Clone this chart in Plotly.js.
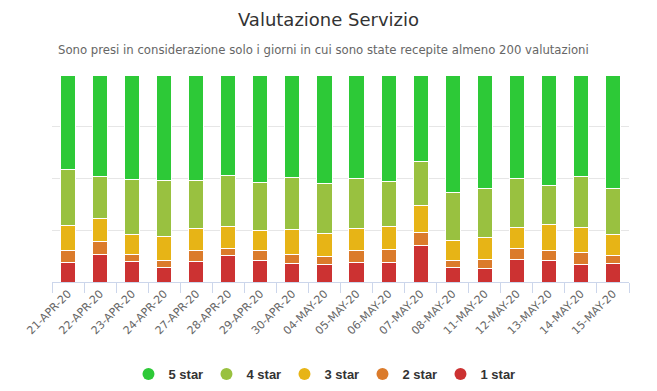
<!DOCTYPE html>
<html>
<head>
<meta charset="utf-8">
<script src="https://cdn.plot.ly/plotly-3.0.1.min.js"></script>
<style>html,body{margin:0;padding:0;background:#fff;}#chart{width:657px;height:391px;}</style>
</head>
<body>
<div id="chart"></div>
<script>
var categories = ["21-APR-20","22-APR-20","23-APR-20","24-APR-20","27-APR-20","28-APR-20","29-APR-20","30-APR-20","04-MAY-20","05-MAY-20","06-MAY-20","07-MAY-20","08-MAY-20","11-MAY-20","12-MAY-20","13-MAY-20","14-MAY-20","15-MAY-20"];
var star1 = [9.5,13.4,10.0,7.1,10.0,12.9,10.5,9.0,8.5,9.5,9.5,17.7,7.1,6.6,10.9,10.5,8.5,9.0];
var star2 = [5.8,6.2,3.5,3.4,5.3,3.5,4.8,4.4,3.9,5.8,6.3,6.3,3.4,4.3,5.4,4.8,5.8,3.9];
var star3 = [12.1,11.2,9.5,11.6,10.6,10.5,9.7,12.0,11.1,10.6,11.1,13.0,9.6,10.7,10.1,12.6,12.1,10.1];
var star4 = [27.0,20.2,26.6,27.0,23.2,24.6,23.1,25.2,24.2,24.2,21.7,21.3,23.2,23.6,23.7,18.8,24.6,22.2];
var star5 = [45.6,49.0,50.4,50.9,50.9,48.5,51.9,49.4,52.3,49.9,51.4,41.7,56.7,54.8,49.9,53.3,49.0,54.8];
var seriesNames = ["1 star","2 star","3 star","4 star","5 star"];
var seriesColors = ["#cc3232","#db7b2b","#e7b416","#99c140","#2dc937"];
var seriesValues = [star1,star2,star3,star4,star5];

var traces = [];
for (var i = 0; i < seriesValues.length; i++) {
  traces.push({
    type: "bar", x: categories, y: seriesValues[i], name: seriesNames[i],
    marker: {color: seriesColors[i], line: {color: "#ffffff", width: 1}},
    showlegend: false, hoverinfo: "x+y+name"
  });
}
// legend entries with round symbols (5 star first)
for (var j = seriesNames.length - 1; j >= 0; j--) {
  traces.push({
    type: "scatter", mode: "markers", x: [null], y: [null], name: seriesNames[j],
    marker: {color: seriesColors[j], size: 12, symbol: "circle"},
    showlegend: true, hoverinfo: "skip"
  });
}

var layout = {
  width: 657, height: 391,
  paper_bgcolor: "#ffffff", plot_bgcolor: "#ffffff",
  font: {family: "DejaVu Sans, Verdana, sans-serif", color: "#333333"},
  margin: {l: 52, r: 28, t: 75, b: 109},
  barmode: "stack", bargap: 0.53,
  title: {text: "Valutazione Servizio", font: {size: 18, color: "#333333"},
    x: 0.5, xref: "container", xanchor: "center", y: 1 - 20/391, yref: "container", yanchor: "middle"},
  annotations: [{text: "Sono presi in considerazione solo i giorni in cui sono state recepite almeno 200 valutazioni",
    xref: "paper", yref: "paper", x: 0.471, y: (282 - 50) / 207, xanchor: "center", yanchor: "middle",
    showarrow: false, font: {size: 11.7, color: "#666666"}}],
  xaxis: {type: "category", tickangle: -45, tickfont: {size: 11, color: "#666666"},
    showline: true, linecolor: "#ccd6eb", linewidth: 1, ticks: "outside", tickson: "boundaries",
    ticklen: 10, tickcolor: "#ccd6eb", showgrid: false, fixedrange: true},
  yaxis: {range: [0, 100], dtick: 25, showticklabels: false, showgrid: true, gridcolor: "#e6e6e6",
    gridwidth: 1, zeroline: false, showline: false, fixedrange: true},
  legend: {orientation: "h", traceorder: "normal", x: 0.4705, xanchor: "center", y: 1 - 374/391, yref: "container", yanchor: "middle",
    entrywidth: 33, entrywidthmode: "pixels",
    font: {family: "Liberation Sans, Arial, sans-serif", size: 13, color: "#333333", weight: "bold"},
    itemclick: false, itemdoubleclick: false}
};

Plotly.newPlot("chart", traces, layout, {displayModeBar: false, staticPlot: true});
</script>
</body>
</html>
